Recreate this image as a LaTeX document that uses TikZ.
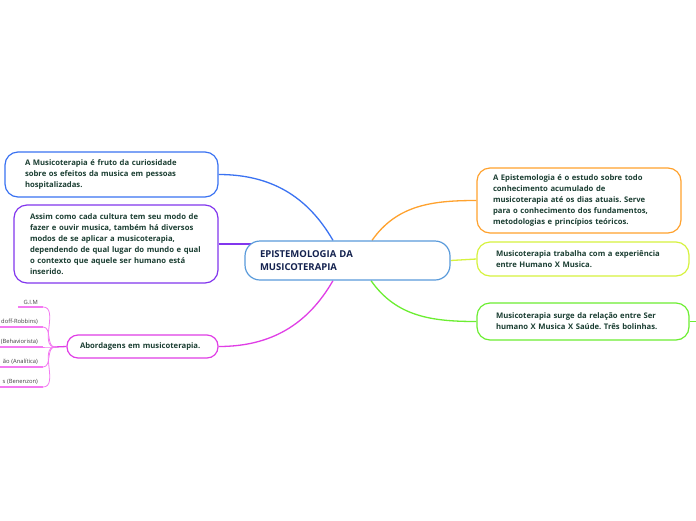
\documentclass[tikz,border=0pt]{standalone}
\usepackage{fontspec}
\setmainfont{Open Sans}
\frenchspacing
\usetikzlibrary{arrows.meta, positioning, calc, backgrounds}
\definecolor{txtGreen}{HTML}{1C3F33}
\definecolor{txtNavy}{HTML}{14224F}
\definecolor{mainBlue}{HTML}{5A9BDB}
\definecolor{topBlue}{HTML}{3A72F2}
\definecolor{topPurple}{HTML}{8236EE}
\definecolor{topMagenta}{HTML}{E03EE6}
\definecolor{subPink}{HTML}{F47AF2}
\definecolor{topOrange}{HTML}{FFA22E}
\definecolor{topYellow}{HTML}{D6F23E}
\definecolor{topGreen}{HTML}{6CEE32}
\tikzset{
    mainNode/.style={rectangle, rounded corners=15pt, draw=mainBlue, fill=white, line width=1.2pt, font=\fontsize{9.5}{13}\selectfont\bfseries, text=txtNavy, align=left, inner xsep=15pt, inner ysep=0pt, minimum height=39pt},
    topicNode/.style={rectangle, rounded corners=13pt, fill=white, line width=1.2pt, font=\fontsize{7.7}{11}\selectfont\bfseries, text=txtGreen, align=left, inner ysep=0pt},
    subNode/.style={inner xsep=5pt, inner ysep=2pt, font=\fontsize{5.8}{7}\selectfont, text=black!75, align=right},
    branchLine/.style={line width=1.3pt},
    subLine/.style={draw=subPink, line width=0.8pt},
    underLine/.style={draw=subPink, line width=1.8pt}
}
\begin{document}
\begin{tikzpicture}[x=1pt, y=1pt]

        % Canvas
        \useasboundingbox (0,0) rectangle (696,-520);

        % 1. Central node
        \node[mainNode, text width=175pt] (epis) at (347.5,-260.5) {EPISTEMOLOGIA DA\\MUSICOTERAPIA};

        % 2. Topics on the left
        \node[topicNode, draw=topBlue, text width=173pt, inner xsep=20pt, minimum height=45pt] (fruto) at (111.5,-174.5)
            {A Musicoterapia é fruto da curiosidade\\sobre os efeitos da musica em pessoas\\hospitalizadas.};
        \node[topicNode, draw=topPurple, text width=172pt, inner xsep=16pt, minimum height=78pt] (cultura) at (116,-244)
            {Assim como cada cultura tem seu modo de\\fazer e ouvir musica, também há diversos\\modos de se aplicar a musicoterapia,\\dependendo de qual lugar do mundo e qual\\o contexto que aquele ser humano está\\inserido.};
        \node[topicNode, draw=topMagenta, text width=125pt, inner xsep=13pt, minimum height=23pt, rounded corners=11pt] (abord) at (142.5,-346.5)
            {Abordagens em musicoterapia.};

        % 3. Topics on the right
        \node[topicNode, draw=topOrange, text width=172pt, inner xsep=16pt, minimum height=65pt] (estudo) at (579,-200.5)
            {A Epistemologia é o estudo sobre todo\\conhecimento acumulado de\\musicoterapia até os dias atuais. Serve\\para o conhecimento dos fundamentos,\\metodologias e princípios teóricos.};
        \node[topicNode, draw=topYellow, text width=174pt, inner xsep=19pt, minimum height=34pt] (trabalha) at (583,-259)
            {Musicoterapia trabalha com a experiência\\entre Humano X Musica.};
        \node[topicNode, draw=topGreen, text width=174pt, inner xsep=19pt, minimum height=37pt] (surge) at (583,-321.5)
            {Musicoterapia surge da relação entre Ser\\humano X Musica X Saúde. Três bolinhas.};

        % 4. Subtopics of the approaches
        \node[subNode, anchor=south east] (gim) at (43,-307) {G.I.M};
        \node[subNode, anchor=south east, text width=40pt] (nordoff) at (43,-327) {doff-Robbins)};
        \node[subNode, anchor=south east, text width=40pt] (behav) at (43,-347) {(Behaviorista)};
        \node[subNode, anchor=south east, text width=40pt] (analit) at (43,-367) {ão (Analítica)};
        \node[subNode, anchor=south east, text width=40pt] (benen) at (43,-387) {s (Benenzon)};
        \coordinate (hub) at (55,-347);
        \coordinate (surgeOut) at (700,-321.5);

        % 5. Branches (drawn behind the boxes)
        \begin{scope}[on background layer]
        \fill[white] (0,0) rectangle (696,-520);
        \draw[branchLine, topBlue] ($(epis.north)+(-14.5,0)$) to[out=120, in=0] (fruto.east);
        \draw[branchLine, topPurple] (cultura.east) -- ($(epis.west)+(15,16.5)$);
        \draw[branchLine, topMagenta] ($(epis.south)+(-14.5,0)$) to[out=-120, in=0] (abord.east);
        \draw[branchLine, topOrange] ($(epis.north)+(24.5,0)$) to[out=55, in=180] (estudo.west);
        \draw[branchLine, topYellow] (epis.east) -- (trabalha.west);
        \draw[branchLine, topGreen] ($(epis.south)+(23.5,0)$) to[out=-55, in=180] (surge.west);
        \draw[branchLine, topGreen] (surge.east) -- (surgeOut);
        \end{scope}

        % 6. Subtopic underlines and links
        \foreach \s in {gim,nordoff,behav,analit,benen} {
            \draw[underLine] (\s.south west) -- (\s.south east);
            \draw[subLine] (\s.south east) to[out=0, in=180] (hub);
        }
        \draw[branchLine, topMagenta] (hub) -- (abord.west);

    \end{tikzpicture}
\end{document}
